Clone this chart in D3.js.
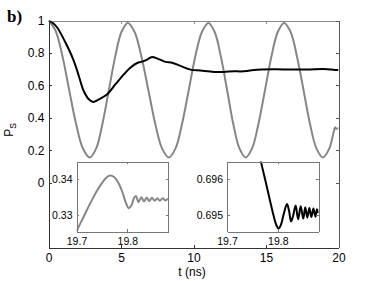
<!DOCTYPE html>
<html lang="en">
<head>
<meta charset="UTF-8">
<title>P_S versus t</title>
<script src="https://d3js.org/d3.v7.min.js"></script>
<style>
  body { margin: 0; background: #fff; }
  svg { display: block; }
  .axis text { font-family: "Liberation Sans", Arial, sans-serif; font-size: 12px; fill: #000; }
  .inset .axis text { font-size: 10.5px; }
  .axis line, .axis path { shape-rendering: crispEdges; }
</style>
</head>
<body>
<div id="chart"></div>
<script>
// main panel ticks
const timeTicks = [0, 5, 10, 15, 20];
const levelTicks = [0, 0.2, 0.4, 0.6, 0.8, 1];

// gray curve [t (ns), P_S]
const grayCurve = [
  [0, 1.0], [0.475, 0.94], [0.95, 0.785], [1.425, 0.572], [1.9, 0.363], [2.375, 0.211], [2.85, 0.155],
  [3.29, 0.211], [3.72, 0.363], [4.16, 0.57], [4.60, 0.777], [5.03, 0.929], [5.47, 0.985],
  [5.94, 0.929], [6.41, 0.777], [6.89, 0.57], [7.36, 0.363], [7.83, 0.211], [8.3, 0.155],
  [8.76, 0.211], [9.21, 0.363], [9.67, 0.57], [10.12, 0.777], [10.58, 0.929], [11.03, 0.985],
  [11.46, 0.929], [11.89, 0.777], [12.32, 0.57], [12.74, 0.363], [13.17, 0.211], [13.6, 0.155],
  [14.04, 0.211], [14.48, 0.363], [14.93, 0.57], [15.37, 0.777], [15.81, 0.929], [16.25, 0.985],
  [16.70, 0.929], [17.14, 0.777], [17.59, 0.57], [18.03, 0.363], [18.48, 0.211], [18.92, 0.155],
  [19.37, 0.211], [19.7, 0.325], [19.77, 0.341], [19.8, 0.332], [19.85, 0.334], [20, 0.334]
];

// black curve [t (ns), P_S]
const blackCurve = [
  [0, 1.0], [0.3, 0.985], [0.6, 0.957], [1.17, 0.864], [1.75, 0.75], [2.09, 0.658], [2.43, 0.565],
  [2.78, 0.514], [3.08, 0.498], [3.47, 0.514], [4.05, 0.545], [4.62, 0.607], [5.2, 0.668],
  [5.66, 0.71], [6.12, 0.738], [6.4, 0.745], [6.76, 0.757], [7.1, 0.774], [7.6, 0.762],
  [8.07, 0.745], [8.53, 0.74], [9.1, 0.72], [9.79, 0.697], [10.48, 0.691], [11.4, 0.683],
  [12.09, 0.683], [12.78, 0.687], [13.24, 0.686], [13.7, 0.689], [14.16, 0.695], [15.54, 0.699],
  [16.69, 0.698], [17.84, 0.698], [18.99, 0.701], [19.5, 0.698], [19.8, 0.695], [20, 0.695]
];

// insets: zoom on the last 0.18 ns
const insetTimeTicks = [19.7, 19.8];

const grayInset = [
  [19.700, 0.3254], [19.710, 0.3283], [19.720, 0.3312], [19.730, 0.3340], [19.740, 0.3366],
  [19.750, 0.3388], [19.758, 0.3402], [19.766, 0.3409], [19.774, 0.3405], [19.782, 0.3390],
  [19.790, 0.3364], [19.797, 0.3334], [19.803, 0.3318], [19.808, 0.3326], [19.813, 0.3346],
  [19.817, 0.3352], [19.822, 0.3335], [19.8275, 0.3349], [19.833, 0.3337], [19.838, 0.3348],
  [19.843, 0.3338], [19.8485, 0.3347], [19.854, 0.3339], [19.859, 0.3346], [19.864, 0.3339],
  [19.8695, 0.3346], [19.875, 0.3340], [19.880, 0.3345]
];
const grayInsetTicks = [0.33, 0.34];

const blackInset = [
  [19.755, 0.69720], [19.765, 0.69658], [19.775, 0.69598], [19.785, 0.69537], [19.792, 0.69496],
  [19.797, 0.69472], [19.8015, 0.69462], [19.806, 0.69472], [19.812, 0.69505], [19.818, 0.69530],
  [19.822, 0.69512], [19.826, 0.69482], [19.830, 0.69497], [19.835, 0.69526], [19.840, 0.69488],
  [19.845, 0.69524], [19.850, 0.69490], [19.854, 0.69521], [19.858, 0.69492], [19.862, 0.69519],
  [19.866, 0.69494], [19.870, 0.69518], [19.874, 0.69495], [19.877, 0.69516], [19.880, 0.69505]
];
const blackInsetTicks = [0.695, 0.696];

const W = 374, H = 281;
const svg = d3.select("#chart").append("svg")
  .attr("width", W)
  .attr("height", H);

// draws a MATLAB-like box with inward ticks
function drawFrame(g, x, y, xTicks, yTicks, xPad, yPad, tick) {
  const fmt = d => d;
  const bottom = g.append("g").attr("class", "axis")
    .attr("transform", `translate(0,${y.range()[0]})`)
    .call(d3.axisBottom(x).tickValues(xTicks).tickFormat(fmt).tickSizeInner(-tick).tickSizeOuter(0).tickPadding(xPad));
  const top = g.append("g").attr("class", "axis")
    .attr("transform", `translate(0,${y.range()[1]})`)
    .call(d3.axisTop(x).tickValues(xTicks).tickFormat("").tickSizeInner(-tick).tickSizeOuter(0));
  const left = g.append("g").attr("class", "axis")
    .attr("transform", `translate(${x.range()[0]},0)`)
    .call(d3.axisLeft(y).tickValues(yTicks).tickFormat(fmt).tickSizeInner(-tick).tickSizeOuter(0).tickPadding(yPad));
  const right = g.append("g").attr("class", "axis")
    .attr("transform", `translate(${x.range()[1]},0)`)
    .call(d3.axisRight(y).tickValues(yTicks).tickFormat("").tickSizeInner(-tick).tickSizeOuter(0));
  return { bottom, top, left, right };
}

// ---- main panel
const x = d3.scaleLinear().domain([0, 20]).range([48.5, 338.5]);
const y = d3.scaleLinear().domain([-0.4, 1]).range([247.5, 20.5]);

const main = svg.append("g");
svg.append("defs").append("clipPath").attr("id", "mainClip")
  .append("rect")
  .attr("x", x.range()[0]).attr("y", y.range()[1])
  .attr("width", x.range()[1] - x.range()[0])
  .attr("height", y.range()[0] - y.range()[1]);

const line = d3.line()
  .x(d => x(d[0]))
  .y(d => y(d[1]))
  .curve(d3.curveCatmullRom.alpha(0.5));

main.append("path")
  .datum(grayCurve)
  .attr("clip-path", "url(#mainClip)")
  .attr("fill", "none")
  .attr("stroke", "#868686")
  .attr("stroke-width", 2)
  .attr("d", line);

main.append("path")
  .datum(blackCurve)
  .attr("clip-path", "url(#mainClip)")
  .attr("fill", "none")
  .attr("stroke", "#000")
  .attr("stroke-width", 2)
  .attr("d", line);

const mainAxes = drawFrame(main, x, y, timeTicks, levelTicks, 6, 4, 3);
mainAxes.bottom.selectAll(".domain, line").attr("stroke", "#333");
mainAxes.left.selectAll(".domain, line").attr("stroke", "#333");
mainAxes.top.selectAll(".domain, line").attr("stroke", "#888");
mainAxes.right.selectAll(".domain, line").attr("stroke", "#555");

// axis titles
svg.append("text")
  .attr("x", 192)
  .attr("y", 275.5)
  .attr("text-anchor", "middle")
  .style("font-family", "'Liberation Sans', Arial, sans-serif")
  .style("font-size", "12px")
  .text("t (ns)");

const yTitle = svg.append("text")
  .attr("transform", "translate(13,130) rotate(-90)")
  .attr("text-anchor", "middle")
  .style("font-family", "'Liberation Sans', Arial, sans-serif")
  .style("font-size", "12px");
yTitle.append("tspan").text("P");
yTitle.append("tspan").attr("dy", 3).style("font-size", "8.5px").text("S");

svg.append("text")
  .attr("x", 7)
  .attr("y", 22)
  .style("font-family", "'Liberation Serif', 'Times New Roman', serif")
  .style("font-weight", "bold")
  .style("font-size", "17px")
  .text("b)");

// ---- insets
function drawInset(id, left, data, yDomain, yTicks, color) {
  const ix = d3.scaleLinear().domain([19.7, 19.88]).range([left + 0.5, left + 92]);
  const iy = d3.scaleLinear().domain(yDomain).range([231.5, 161.5]);
  const g = svg.append("g").attr("class", "inset");

  g.append("rect")
    .attr("x", ix.range()[0]).attr("y", iy.range()[1])
    .attr("width", ix.range()[1] - ix.range()[0])
    .attr("height", iy.range()[0] - iy.range()[1])
    .attr("fill", "#fff");

  g.append("defs").append("clipPath").attr("id", id)
    .append("rect")
    .attr("x", ix.range()[0]).attr("y", iy.range()[1])
    .attr("width", ix.range()[1] - ix.range()[0])
    .attr("height", iy.range()[0] - iy.range()[1]);

  const iline = d3.line()
    .x(d => ix(d[0]))
    .y(d => iy(d[1]))
    .curve(d3.curveCatmullRom.alpha(0.5));

  g.append("path")
    .datum(data)
    .attr("clip-path", `url(#${id})`)
    .attr("fill", "none")
    .attr("stroke", color)
    .attr("stroke-width", 2)
    .attr("d", iline);

  drawFrame(g, ix, iy, insetTimeTicks, yTicks, 6, 4, 2.5);
  g.selectAll(".axis .domain, .axis line").attr("stroke", "#777");
}

drawInset("insetGray", 76, grayInset, [0.32536, 0.3448], grayInsetTicks, "#868686");
drawInset("insetBlack", 226.5, blackInset, [0.69454, 0.69648], blackInsetTicks, "#000");
</script>
</body>
</html>
